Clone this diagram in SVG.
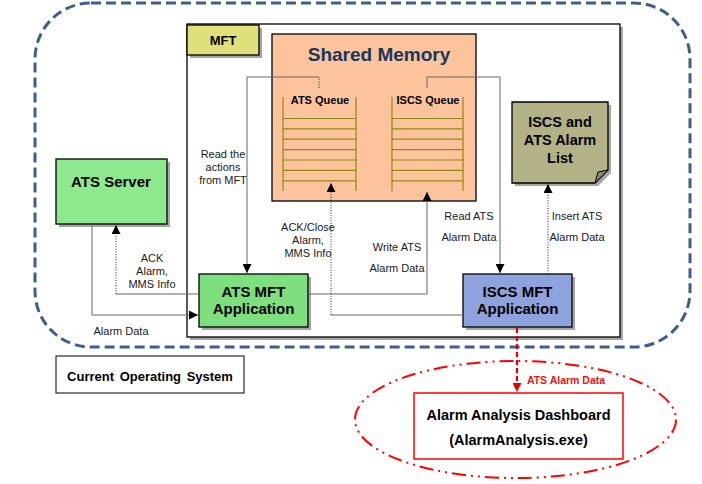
<svg xmlns="http://www.w3.org/2000/svg" width="702" height="484" viewBox="0 0 702 484">
<defs>
<style>
.lbl{font-family:"Liberation Sans",Arial,sans-serif;font-size:11px;fill:#1a1a1a;text-anchor:middle}
.bold{font-family:"Liberation Sans",Arial,sans-serif;font-weight:bold;fill:#000;text-anchor:middle}
.shadow{fill:#a6a6a6}
.box{stroke:#000;stroke-width:1.3}
.solid{fill:none;stroke:#666;stroke-width:1}
.dot{fill:none;stroke:#222;stroke-width:1;stroke-dasharray:1,1.6}
.q{stroke:#8e8a12;stroke-width:1.2;fill:none}
</style>
<marker id="arr" viewBox="0 0 10 10" refX="10" refY="5" markerWidth="9" markerHeight="9" markerUnits="userSpaceOnUse" orient="auto">
<path d="M0,0 L10,5 L0,10 Z" fill="#000"/>
</marker>
<marker id="arrRed" viewBox="0 0 10 10" refX="10" refY="5" markerWidth="9" markerHeight="9" markerUnits="userSpaceOnUse" orient="auto">
<path d="M0,0 L10,5 L0,10 Z" fill="#e00000"/>
</marker>
</defs>
<rect width="702" height="484" fill="#fff"/>

<!-- Outer dashed boundary -->
<g id="current-system-boundary">
<rect x="35" y="3" width="655" height="344" rx="56" ry="56" fill="none" stroke="#3b6090" stroke-width="3" stroke-dasharray="10,5"/>
</g>

<!-- MFT container -->
<g id="mft">
<rect x="190" y="27" width="433" height="313" class="shadow"/>
<rect x="187" y="24" width="433" height="313" fill="#fff" class="box"/>
</g>
<g id="mft-label">
<rect x="190" y="28" width="72" height="30" class="shadow"/>
<rect x="187" y="25" width="72" height="30" fill="#dfe07b" class="box"/>
<text x="223" y="45" class="bold" font-size="13">MFT</text>
</g>

<!-- Shared Memory -->
<g id="shared-memory">
<rect x="272" y="34" width="204" height="167" fill="#fdc39c" class="box"/>
<text x="379" y="61" class="bold" font-size="19" style="fill:#17375e">Shared Memory</text>
</g>
<g id="ats-queue">
<text x="320" y="104" class="bold" font-size="11">ATS Queue</text>
<path class="q" d="M283,97 V191 M356,97 V191 M283,118.5 H356 M283,128.8 H356 M283,139.2 H356 M283,149.6 H356 M283,160 H356 M283,170.4 H356 M283,180.8 H356"/>
</g>
<g id="iscs-queue">
<text x="428" y="104" class="bold" font-size="11">ISCS Queue</text>
<path class="q" d="M392,97 V191 M463,97 V191 M392,118.5 H463 M392,128.8 H463 M392,139.2 H463 M392,149.6 H463 M392,160 H463 M392,170.4 H463 M392,180.8 H463"/>
</g>

<!-- Alarm list note -->
<g id="alarm-list">
<path d="M515,105 H611 V173 L598,186 H515 Z" class="shadow"/>
<path d="M512,102 H608 V170 L595,183 H512 Z" fill="#b3b186" class="box"/>
<path d="M608,170 L595,183 L598,172 Z" fill="#8c8a5a" stroke="#000" stroke-width="1"/>
<text x="560" y="127" class="bold" font-size="14.5">ISCS and</text>
<text x="560" y="145" class="bold" font-size="14.5">ATS Alarm</text>
<text x="560" y="163" class="bold" font-size="14.5">List</text>
</g>

<!-- ATS Server -->
<g id="ats-server">
<rect x="59" y="162" width="111" height="65" class="shadow"/>
<rect x="56" y="159" width="111" height="65" fill="#8ee98e" class="box"/>
<text x="111" y="187" class="bold" font-size="15">ATS Server</text>
</g>

<!-- ATS MFT Application -->
<g id="ats-mft-app">
<rect x="202" y="277" width="109" height="53" class="shadow"/>
<rect x="199" y="274" width="109" height="53" fill="#7ddf7d" class="box"/>
<text x="253.5" y="297" class="bold" font-size="15">ATS MFT</text>
<text x="253.5" y="314" class="bold" font-size="15">Application</text>
</g>

<!-- ISCS MFT Application -->
<g id="iscs-mft-app">
<rect x="466" y="277" width="109" height="53" class="shadow"/>
<rect x="463" y="274" width="109" height="53" fill="#8ea3dd" class="box"/>
<text x="517.5" y="297" class="bold" font-size="15">ISCS MFT</text>
<text x="517.5" y="314" class="bold" font-size="15">Application</text>
</g>

<!-- Current Operating System -->
<g id="current-operating-system">
<rect x="56" y="356" width="188" height="37" fill="#fff" stroke="#000" stroke-width="1"/>
<text x="150" y="381" class="bold" font-size="13" word-spacing="2">Current Operating System</text>
</g>

<!-- Alarm Analysis Dashboard -->
<g id="dashboard-boundary">
<ellipse cx="515.5" cy="419.5" rx="160.5" ry="58.5" fill="none" stroke="#ff0000" stroke-width="2" stroke-dasharray="14,5,2,5,2,5"/>
</g>
<g id="alarm-analysis-dashboard">
<rect x="414" y="393" width="209" height="66" fill="#fff" stroke="#ff0000" stroke-width="1.5"/>
<text x="518.5" y="420" class="bold" font-size="14.5">Alarm Analysis Dashboard</text>
<text x="518.5" y="445" class="bold" font-size="14.5">(AlarmAnalysis.exe)</text>
</g>

<!-- Connectors -->
<g id="connectors">
<!-- Read the actions from MFT -->
<path class="dot" d="M319,88 V77"/>
<path class="solid" d="M319,77 H247 V273" marker-end="url(#arr)"/>
<text class="lbl" x="223" y="158">Read the</text>
<text class="lbl" x="223" y="171">actions</text>
<text class="lbl" x="223" y="184">from MFT</text>

<!-- Read ATS Alarm Data -->
<path class="solid" d="M427,88 V77 H500 V273" marker-end="url(#arr)"/>
<text class="lbl" x="469" y="220">Read ATS</text>
<text class="lbl" x="469" y="241">Alarm Data</text>

<!-- Insert ATS Alarm Data -->
<path class="dot" d="M548,274 V184" marker-end="url(#arr)"/>
<text class="lbl" x="577" y="220">Insert ATS</text>
<text class="lbl" x="577" y="241">Alarm Data</text>

<!-- Write ATS Alarm Data -->
<path class="solid" d="M308,294 H427 V192" marker-end="url(#arr)"/>
<text class="lbl" x="397" y="251">Write ATS</text>
<text class="lbl" x="397" y="272">Alarm Data</text>

<!-- ACK/Close Alarm, MMS Info -->
<path class="solid" d="M463,315 H331"/>
<path class="dot" d="M331,315 V183" marker-end="url(#arr)"/>
<text class="lbl" x="308" y="231">ACK/Close</text>
<text class="lbl" x="308" y="244">Alarm,</text>
<text class="lbl" x="308" y="257">MMS Info</text>

<!-- ACK Alarm, MMS Info -->
<path class="solid" d="M199,294 H116"/>
<path class="dot" d="M116,294 V225" marker-end="url(#arr)"/>
<text class="lbl" x="152" y="262">ACK</text>
<text class="lbl" x="152" y="275">Alarm,</text>
<text class="lbl" x="152" y="288">MMS Info</text>

<!-- Alarm Data -->
<path class="solid" d="M92,224 V315 H198" marker-end="url(#arr)"/>
<text class="lbl" x="121" y="335">Alarm Data</text>

<!-- ATS Alarm Data (red) -->
<path d="M517,328 V392" fill="none" stroke="#e00000" stroke-width="2.2" stroke-dasharray="5,3" marker-end="url(#arrRed)"/>
<text x="566" y="384" class="bold" font-size="10.5" style="fill:#ee1111">ATS Alarm Data</text>
</g>
</svg>
